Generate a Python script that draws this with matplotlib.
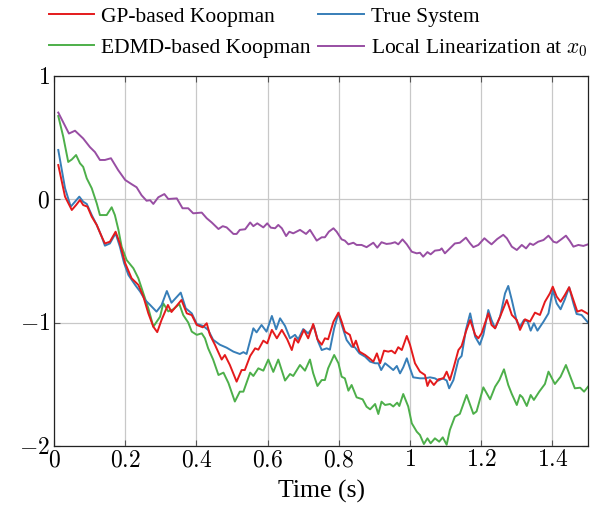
import matplotlib
matplotlib.use("Agg")
import matplotlib.pyplot as plt

plt.rcParams['font.family'] = ['Liberation Serif', 'DejaVu Serif']
plt.rcParams['mathtext.fontset'] = 'cm'

# ---------------- data ----------------
t_true = [0.012,0.031,0.047,0.059,0.071,0.082,0.092,0.106,0.12,0.134,0.143,0.157,0.173,0.185,0.197,0.209,0.228,0.242,0.256,0.27,0.288,0.302,0.317,0.33,0.356,0.37,0.387,0.401,0.419,0.433,0.447,0.466,0.485,0.504,0.522,0.532,0.541,0.56,0.569,0.583,0.597,0.612,0.624,0.635,0.649,0.663,0.677,0.686,0.70,0.714,0.73,0.742,0.752,0.766,0.775,0.787,0.799,0.81,0.822,0.836,0.845,0.858,0.874,0.888,0.902,0.911,0.919,0.93,0.942,0.953,0.963,0.972,0.981,0.991,1.0,1.009,1.028,1.042,1.056,1.07,1.08,1.092,1.103,1.11,1.122,1.136,1.145,1.157,1.169,1.183,1.196,1.206,1.22,1.229,1.239,1.253,1.267,1.276,1.286,1.3,1.309,1.32,1.33,1.339,1.348,1.358,1.375,1.389,1.401,1.412,1.423,1.435,1.447,1.459,1.468,1.482,1.5]
v_true = [0.397,0.087,-0.062,-0.022,0.019,-0.022,-0.04,-0.13,-0.21,-0.305,-0.378,-0.36,-0.278,-0.386,-0.52,-0.615,-0.696,-0.75,-0.818,-0.858,-0.912,-0.86,-0.745,-0.84,-0.758,-0.885,-0.926,-1.012,-1.028,-1.06,-1.14,-1.18,-1.204,-1.236,-1.255,-1.24,-1.255,-1.047,-1.08,-1.02,-1.074,-0.947,-1.055,-0.966,-1.028,-1.128,-1.10,-1.136,-1.053,-1.088,-1.028,-1.155,-1.223,-1.209,-1.22,-1.047,-0.926,-1.034,-1.142,-1.196,-1.2,-1.25,-1.277,-1.317,-1.33,-1.33,-1.385,-1.33,-1.358,-1.385,-1.352,-1.412,-1.363,-1.29,-1.371,-1.444,-1.452,-1.452,-1.444,-1.452,-1.47,-1.452,-1.47,-1.533,-1.466,-1.30,-1.271,-1.06,-0.926,-1.115,-1.18,-1.10,-0.899,-0.98,-1.047,-0.953,-0.764,-0.704,-0.818,-0.993,-1.034,-0.98,-0.99,-1.066,-1.006,-1.066,-0.993,-0.926,-0.737,-0.845,-0.893,-0.812,-0.715,-0.845,-0.931,-0.939,-1.0]

t_gp = [0.012,0.031,0.05,0.062,0.073,0.082,0.094,0.106,0.12,0.134,0.143,0.157,0.173,0.185,0.2,0.218,0.237,0.251,0.265,0.279,0.29,0.302,0.32,0.33,0.358,0.373,0.387,0.401,0.418,0.429,0.438,0.452,0.471,0.48,0.494,0.513,0.527,0.536,0.551,0.565,0.574,0.588,0.599,0.612,0.626,0.64,0.655,0.668,0.677,0.686,0.702,0.714,0.728,0.74,0.752,0.761,0.77,0.785,0.799,0.808,0.817,0.831,0.841,0.848,0.858,0.874,0.886,0.897,0.907,0.916,0.927,0.939,0.948,0.958,0.967,0.977,0.991,1.0,1.014,1.028,1.042,1.049,1.056,1.067,1.08,1.094,1.103,1.112,1.122,1.136,1.145,1.157,1.169,1.183,1.192,1.201,1.22,1.229,1.239,1.253,1.272,1.286,1.3,1.309,1.323,1.337,1.351,1.365,1.379,1.393,1.401,1.412,1.423,1.435,1.447,1.459,1.47,1.482,1.5]
v_gp = [0.275,0.019,-0.089,-0.049,-0.008,-0.049,-0.062,-0.143,-0.21,-0.305,-0.36,-0.346,-0.265,-0.36,-0.52,-0.642,-0.696,-0.79,-0.926,-1.034,-1.078,-0.98,-0.858,-0.915,-0.818,-0.926,-0.94,-1.02,-1.039,-1.006,-1.10,-1.18,-1.30,-1.263,-1.344,-1.479,-1.385,-1.385,-1.271,-1.209,-1.22,-1.147,-1.169,-1.06,-1.128,-1.06,-1.136,-1.223,-1.128,-1.163,-1.06,-1.128,-1.012,-1.136,-1.18,-1.128,-1.136,-0.993,-0.92,-0.993,-1.074,-1.10,-1.196,-1.147,-1.236,-1.263,-1.29,-1.317,-1.25,-1.33,-1.228,-1.236,-1.228,-1.25,-1.20,-1.223,-1.109,-1.18,-1.33,-1.398,-1.425,-1.514,-1.466,-1.506,-1.46,-1.452,-1.398,-1.466,-1.371,-1.223,-1.19,-1.074,-0.98,-1.10,-1.128,-1.088,-0.926,-1.02,-1.047,-0.953,-0.818,-0.939,-0.98,-1.06,-0.974,-0.993,-0.92,-0.939,-0.832,-0.764,-0.71,-0.79,-0.832,-0.777,-0.715,-0.818,-0.912,-0.9,-0.93]

t_edmd = [0.012,0.026,0.04,0.05,0.062,0.073,0.082,0.092,0.106,0.12,0.129,0.148,0.162,0.171,0.181,0.19,0.204,0.223,0.237,0.251,0.265,0.279,0.298,0.307,0.321,0.335,0.352,0.363,0.377,0.387,0.401,0.415,0.424,0.433,0.447,0.462,0.476,0.49,0.508,0.522,0.532,0.551,0.56,0.574,0.588,0.602,0.616,0.63,0.649,0.663,0.672,0.691,0.705,0.719,0.728,0.74,0.752,0.761,0.77,0.787,0.799,0.808,0.817,0.827,0.836,0.85,0.867,0.878,0.888,0.902,0.911,0.92,0.93,0.944,0.953,0.964,0.97,0.981,0.995,1.005,1.019,1.028,1.039,1.049,1.058,1.07,1.082,1.092,1.103,1.112,1.126,1.14,1.159,1.178,1.187,1.206,1.225,1.239,1.251,1.264,1.276,1.286,1.3,1.309,1.316,1.328,1.339,1.348,1.363,1.379,1.389,1.407,1.423,1.438,1.454,1.463,1.478,1.489,1.5]
v_edmd = [0.672,0.504,0.30,0.32,0.356,0.289,0.26,0.167,0.087,-0.035,-0.13,-0.13,-0.067,-0.13,-0.25,-0.386,-0.494,-0.561,-0.642,-0.764,-0.885,-1.034,-0.953,-0.845,-0.91,-0.893,-0.85,-0.94,-1.0,-1.074,-1.10,-1.088,-1.128,-1.209,-1.30,-1.425,-1.406,-1.49,-1.64,-1.56,-1.56,-1.406,-1.433,-1.371,-1.39,-1.30,-1.40,-1.30,-1.47,-1.417,-1.433,-1.344,-1.39,-1.30,-1.41,-1.514,-1.466,-1.466,-1.371,-1.263,-1.33,-1.439,-1.452,-1.552,-1.506,-1.606,-1.622,-1.682,-1.703,-1.66,-1.741,-1.641,-1.668,-1.66,-1.68,-1.649,-1.676,-1.579,-1.68,-1.816,-1.884,-1.911,-1.984,-1.938,-1.978,-1.938,-1.965,-1.93,-1.99,-1.87,-1.763,-1.74,-1.587,-1.74,-1.72,-1.525,-1.622,-1.52,-1.466,-1.379,-1.506,-1.579,-1.668,-1.587,-1.606,-1.676,-1.587,-1.627,-1.56,-1.498,-1.398,-1.498,-1.439,-1.344,-1.466,-1.533,-1.528,-1.56,-1.52]

t_lin = [0.012,0.042,0.059,0.082,0.101,0.115,0.129,0.143,0.160,0.18,0.2,0.218,0.232,0.246,0.26,0.27,0.279,0.293,0.31,0.321,0.345,0.361,0.377,0.391,0.415,0.429,0.443,0.462,0.474,0.485,0.504,0.513,0.522,0.537,0.551,0.56,0.571,0.588,0.599,0.609,0.621,0.63,0.64,0.652,0.661,0.672,0.691,0.708,0.719,0.738,0.752,0.761,0.772,0.785,0.794,0.808,0.817,0.827,0.841,0.85,0.864,0.878,0.897,0.908,0.92,0.934,0.946,0.958,0.967,0.979,0.991,1.005,1.019,1.028,1.037,1.049,1.058,1.07,1.084,1.089,1.098,1.112,1.126,1.14,1.157,1.169,1.178,1.192,1.209,1.22,1.229,1.245,1.262,1.272,1.286,1.3,1.314,1.326,1.337,1.346,1.36,1.375,1.389,1.403,1.412,1.426,1.438,1.449,1.459,1.473,1.487,1.5]
v_lin = [0.70,0.53,0.553,0.49,0.42,0.38,0.316,0.316,0.33,0.235,0.154,0.12,0.095,0.03,-0.014,-0.01,-0.04,0.014,0.04,0.0,0.005,-0.075,-0.075,-0.116,-0.11,-0.156,-0.19,-0.243,-0.22,-0.23,-0.283,-0.283,-0.25,-0.245,-0.19,-0.22,-0.197,-0.23,-0.197,-0.232,-0.237,-0.21,-0.237,-0.30,-0.265,-0.278,-0.25,-0.283,-0.25,-0.337,-0.31,-0.31,-0.265,-0.237,-0.265,-0.327,-0.337,-0.367,-0.354,-0.372,-0.372,-0.39,-0.354,-0.394,-0.35,-0.364,-0.36,-0.35,-0.367,-0.327,-0.367,-0.427,-0.44,-0.435,-0.467,-0.43,-0.448,-0.418,-0.413,-0.40,-0.44,-0.40,-0.36,-0.354,-0.313,-0.36,-0.39,-0.372,-0.318,-0.346,-0.367,-0.324,-0.29,-0.318,-0.386,-0.413,-0.372,-0.40,-0.36,-0.372,-0.346,-0.332,-0.297,-0.346,-0.354,-0.324,-0.297,-0.34,-0.386,-0.372,-0.38,-0.367]

labels = ['GP-based Koopman', 'True System', 'EDMD-based Koopman', r'Local Linearization at $x_0$']
colors = ['#e41a1c', '#377eb8', '#4daf4a', '#984ea3']

xticks = [0, 0.2, 0.4, 0.6, 0.8, 1.0, 1.2, 1.4]
xticklabels = ['$0$', '$0.2$', '$0.4$', '$0.6$', '$0.8$', '$1$', '$1.2$', '$1.4$']
yticks = [1, 0, -1, -2]
yticklabels = ['$1$', '$0$', '$-1$', '$-2$']

# ---------------- plot ----------------
fig = plt.figure(figsize=(6.04, 5.19), dpi=100)
ax = fig.add_axes([54/604, 1-446/519, (588-54)/604, (446-75.5)/519])

lw = 1.4
h_edmd, = ax.plot(t_edmd, v_edmd, color=colors[2], lw=lw)
h_lin, = ax.plot(t_lin, v_lin, color=colors[3], lw=lw)
h_true, = ax.plot(t_true, v_true, color=colors[1], lw=lw)
h_gp, = ax.plot(t_gp, v_gp, color=colors[0], lw=lw)

ax.set_xlim(0, 1.5)
ax.set_ylim(-2, 1)
ax.set_xticks(xticks)
ax.set_xticklabels(xticklabels)
ax.set_yticks(yticks)
ax.set_yticklabels(yticklabels)
ax.tick_params(direction='in', length=4, width=0.8, color='#555555',
               top=True, right=True, labelsize=17, pad=3)
ax.grid(True, color='#c8c8c8', lw=0.9)
ax.set_axisbelow(True)
for s in ax.spines.values():
    s.set_color('#222222')
    s.set_linewidth(0.9)

ax.set_xlabel('Time (s)', fontsize=18.5, labelpad=6)

# legend is filled column-wise: order so rows read GP | True, EDMD | Lin
handles = [h_gp, h_edmd, h_true, h_lin]
leg_labels = [labels[0], labels[2], labels[1], labels[3]]
fig.legend(handles, leg_labels, ncol=2, frameon=False,
           loc='center', bbox_to_anchor=(318/604, 1-33/519), fontsize=15.5,
           handlelength=2.1, handletextpad=0.35, columnspacing=0.35,
           labelspacing=0.5, borderpad=0)

fig.savefig('out.png', dpi=100)
